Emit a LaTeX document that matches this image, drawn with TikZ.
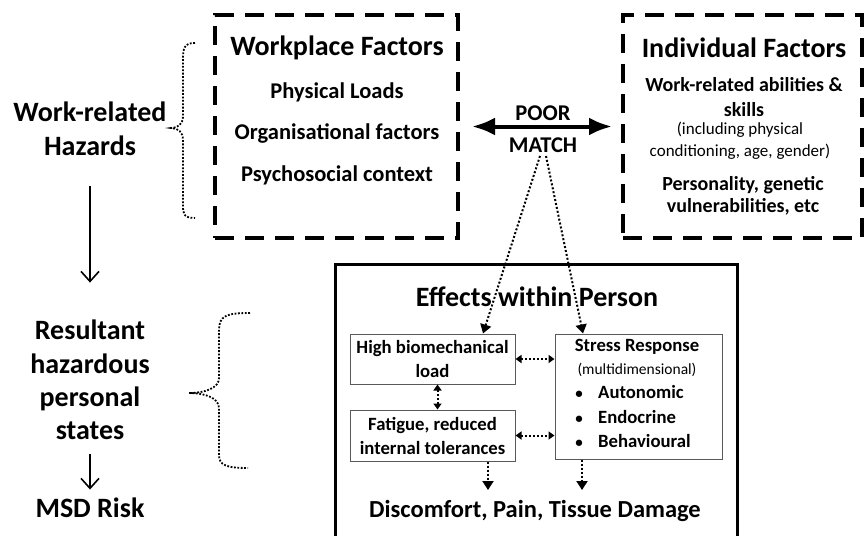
\documentclass[tikz,border=0pt]{standalone}
\usepackage{fontspec}
\setmainfont{Carlito}
\usetikzlibrary{arrows.meta,positioning}

\tikzset{
  factbox/.style={draw, line width=4pt, dash pattern=on 19pt off 11pt},
  bigtxt/.style={font=\fontsize{28}{34}\selectfont\bfseries, align=center},
  headtxt/.style={font=\fontsize{28}{30}\selectfont\bfseries, align=center},
  itemtxt/.style={font=\fontsize{22.5}{25}\selectfont\bfseries, align=center},
  indtxt/.style={font=\fontsize{20}{25}\selectfont\bfseries, align=center},
  parentxt/.style={font=\fontsize{17}{22}\selectfont, align=center},
  smalltxt/.style={font=\fontsize{18.7}{24}\selectfont\bfseries, align=center},
  statebox/.style={draw=black!65, line width=1pt, font=\fontsize{18.7}{24}\selectfont\bfseries, align=center},
  dotline/.style={line width=2pt, dash pattern=on 2pt off 2pt},
  dotarrow/.style={dotline, -{Triangle[length=9pt,width=11pt]}},
  dotdbl/.style={dotline, {Triangle[length=6pt,width=8pt]}-{Triangle[length=6pt,width=8pt]}},
  downarrow/.style={line width=1.6pt, -{Straight Barb[length=10pt,width=18pt]}},
  brace/.style={line width=1.8pt, dash pattern=on 1.8pt off 1.6pt}
}
\newcommand{\stressitem}{\makebox[0pt][c]{\fontsize{15}{15}\selectfont\textbullet}\hspace{19pt}}

\begin{document}
\begin{tikzpicture}[x=1pt,y=-1pt]

    \useasboundingbox (0,0) rectangle (864,535);

    % Left column
    \node[bigtxt] (haz) at (90,129) {Work-related\\Hazards};
    \node[bigtxt, font=\fontsize{28}{33.3}\selectfont\bfseries] (states) at (90,380) {Resultant\\hazardous\\personal\\states};
    \node[bigtxt] (msd) at (90,508) {MSD Risk};
    \draw[downarrow, shorten <=27pt, shorten >=34pt] (haz) -- (states);
    \draw[downarrow, shorten <=11pt, shorten >=5pt] (states) -- (msd);

    % Braces
    \draw[brace] (195,43) .. controls (184,43) and (183,48) .. (183,60) -- (183,116)
        .. controls (183,124) and (178,128) .. (171,128)
        .. controls (178,128) and (183,132) .. (183,140) -- (183,206)
        .. controls (183,214) and (184,218) .. (195,218);
    \draw[brace] (250,313) .. controls (226,313) and (219,316) .. (219,330) -- (219,378)
        .. controls (219,388) and (205,393) .. (189,393)
        .. controls (205,393) and (219,398) .. (219,408) -- (219,455)
        .. controls (219,465) and (226,468) .. (248,468);

    % Workplace factors
    \node[factbox, minimum width=243, minimum height=223] (work) at (336.5,126.5) {};
    \node[headtxt] (worktitle) at (337,48) {Workplace Factors};
    \node[itemtxt] (phys) at (337,92) {Physical Loads};
    \node[itemtxt] (org) at (337,133) {Organisational factors};
    \node[itemtxt] (psych) at (337,175) {Psychosocial context};

    % Individual factors
    \node[factbox, minimum width=239, minimum height=223] (indiv) at (742.5,126.5) {};
    \node[headtxt] (indtitle) at (744,48) {Individual Factors};
    \node[indtxt] (abil) at (744,97) {Work-related abilities \&\\skills};
    \node[parentxt] (incl) at (740,141) {(including physical\\conditioning, age, gender)};
    \node[indtxt, font=\fontsize{20}{22}\selectfont\bfseries] (pers) at (743,196) {Personality, genetic\\vulnerabilities, etc};

    % Poor match
    \node[itemtxt] (poor) at (543,113) {POOR};
    \node[itemtxt] (match) at (543,145) {MATCH};
    \draw[line width=4pt, {Latex[length=23pt,width=18pt]}-{Latex[length=23pt,width=18pt]},
        shorten <=12pt, shorten >=9pt] (work.east) -- (indiv.west);

    % Effects within person
    \node[draw, line width=3pt, minimum width=402, minimum height=300] (effects) at (536,414) {};
    \node[font=\fontsize{28}{30}\selectfont\bfseries] (efftitle) at (537,297) {Effects within Person};

    \node[statebox, minimum width=165, minimum height=50] (bio) at (432.5,359) {High biomechanical\\load};
    \node[statebox, minimum width=165, minimum height=51] (fatigue) at (432.5,435.5) {Fatigue, reduced\\internal tolerances};
    \node[statebox, minimum width=167, minimum height=125] (stress) at (638.5,396.5) {};
    \node[smalltxt] (stresstitle) at (637,347) {Stress Response};
    \node[parentxt, font=\fontsize{15.5}{20}\selectfont] (multi) at (637,370) {(multidimensional)};
    \node[smalltxt, anchor=west, inner sep=0pt] (auton) at (579,392) {\stressitem Autonomic};
    \node[smalltxt, anchor=west, inner sep=0pt] (endo) at (579,417) {\stressitem Endocrine};
    \node[smalltxt, anchor=west, inner sep=0pt] (behav) at (579,441) {\stressitem Behavioural};

    \node[font=\fontsize{24.5}{28}\selectfont\bfseries] (disc) at (535,511) {Discomfort, Pain, Tissue Damage};

    % Dotted links
    \coordinate (biotip) at (483,0);
    \coordinate (stresstip) at (583,0);
    \coordinate (fdown) at (488,490);
    \coordinate (sdown) at (582,490);
    \draw[dotarrow] ([xshift=-3pt]match.south) -- (bio.north -| biotip);
    \draw[dotarrow] ([xshift=3pt]match.south) -- (stress.north -| stresstip);
    \draw[dotdbl] (bio.east) -- (stress.west |- bio.east);
    \draw[dotdbl] (fatigue.east) -- (stress.west |- fatigue.east);
    \draw[dotdbl] ([xshift=5pt]bio.south) -- ([xshift=5pt]fatigue.north);
    \draw[dotarrow] (fatigue.south -| fdown) -- (fdown);
    \draw[dotarrow] (stress.south -| sdown) -- (sdown);

\end{tikzpicture}
\end{document}
